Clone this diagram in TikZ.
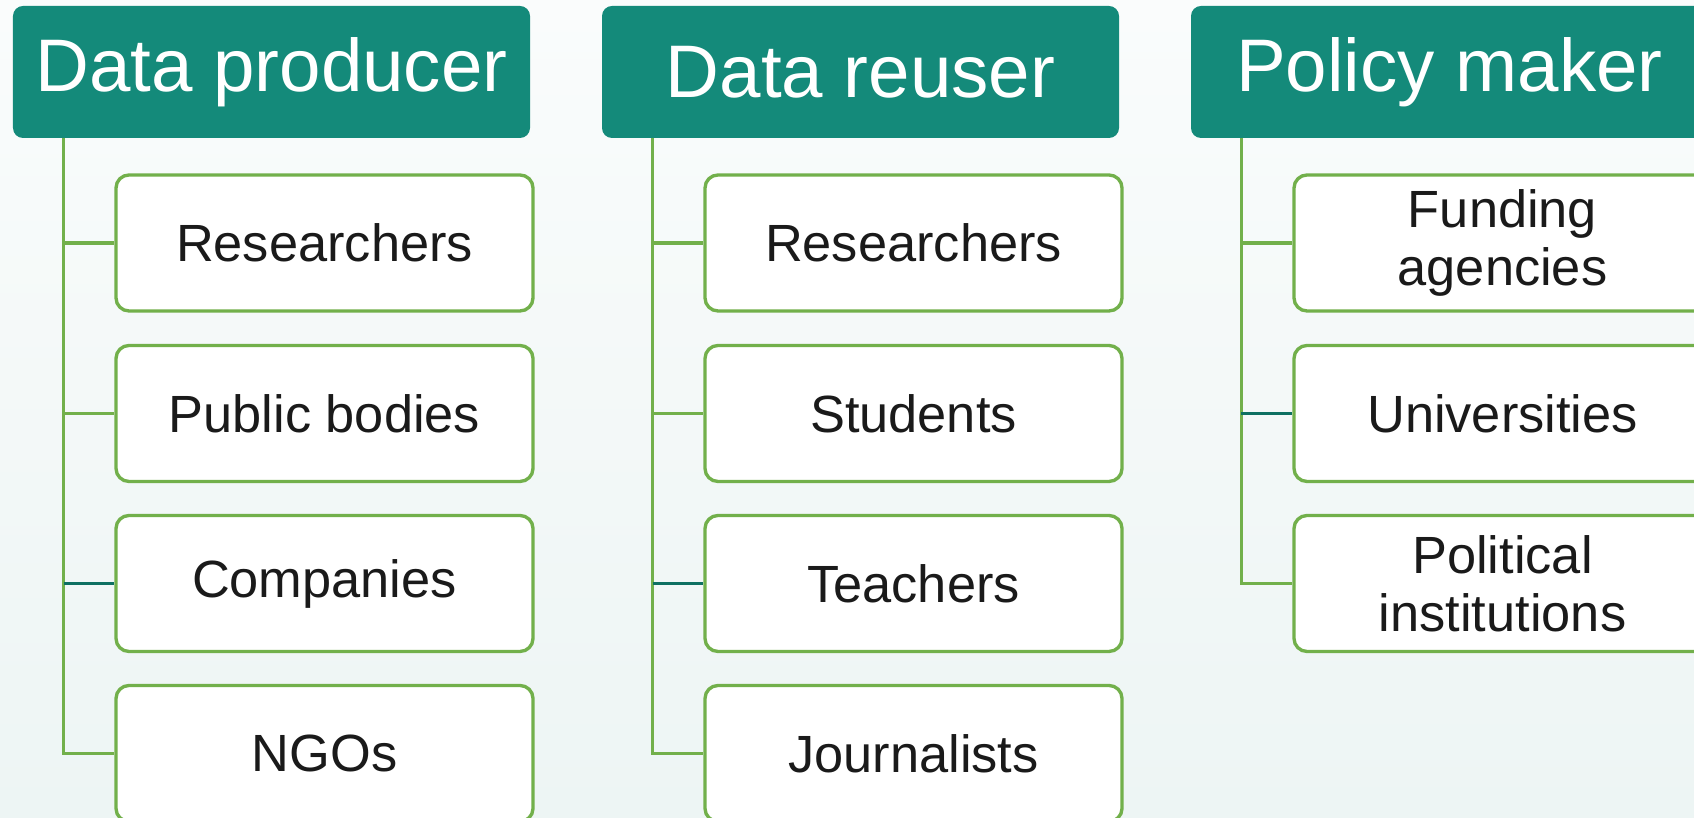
\documentclass[tikz,border=0pt]{standalone}
\usepackage{fontspec}
\setmainfont{Liberation Sans}
\usetikzlibrary{positioning}

\definecolor{headteal}{RGB}{20,138,122}
\definecolor{darkteal}{RGB}{14,112,98}
\definecolor{leafgreen}{RGB}{114,176,75}
\definecolor{bgtop}{RGB}{250,252,252}
\definecolor{bgbot}{RGB}{237,245,244}
\definecolor{inkblack}{RGB}{26,26,26}

\tikzset{
    header/.style={rectangle, rounded corners=0.1cm, fill=headteal, text=white,
        minimum width=5.17cm, minimum height=1.32cm, inner sep=0pt,
        font=\fontsize{21.2}{24}\selectfont},
    member/.style={rectangle, rounded corners=0.13cm, draw=leafgreen, line width=0.95pt,
        fill=white, text=inkblack, align=center, minimum width=4.17cm,
        minimum height=1.36cm, inner sep=0pt, font=\fontsize{14.9}{16.4}\selectfont},
    trunk/.style={draw=leafgreen, line width=1pt},
    hilite/.style={draw=darkteal, line width=1pt}
}

\begin{document}
\begin{tikzpicture}
    \useasboundingbox (0, 0) rectangle (16.94, -8.18);
    \fill [top color=bgtop, bottom color=bgbot] (0, 0) rectangle (16.94, -8.18);

    % column headers
    \node [header] (prod) at (2.715, -0.72) {Data producer};
    \node [header] (reus) at (8.605, -0.72) {Data reuser};
    \node [header] (poli) at (14.495, -0.72) {Policy maker};

    % data producer
    \node [member] (prod1) at (3.245, -2.43) {Researchers};
    \node [member] (prod2) at (3.245, -4.135) {Public bodies};
    \node [member] (prod3) at (3.245, -5.835) {Companies};
    \node [member] (prod4) at (3.245, -7.535) {NGOs};

    % data reuser
    \node [member] (reus1) at (9.135, -2.43) {Researchers};
    \node [member] (reus2) at (9.135, -4.135) {Students};
    \node [member] (reus3) at (9.135, -5.835) {Teachers};
    \node [member] (reus4) at (9.135, -7.535) {Journalists};

    % policy maker
    \node [member] (poli1) at (15.025, -2.43) {Funding \\ agencies};
    \node [member] (poli2) at (15.025, -4.135) {Universities};
    \node [member] (poli3) at (15.025, -5.835) {Political \\ institutions};

    \coordinate (prodt) at (0.637, -1.38);
    \coordinate (reust) at (6.526, -1.38);
    \coordinate (polit) at (12.414, -1.38);

    \draw [trunk] (prodt) |- (prod4.west);
    \draw [trunk] (prod1.west -| prodt) -- (prod1.west);
    \draw [trunk] (prod2.west -| prodt) -- (prod2.west);
    \draw [hilite] (prod3.west -| prodt) -- (prod3.west);

    \draw [trunk] (reust) |- (reus4.west);
    \draw [trunk] (reus1.west -| reust) -- (reus1.west);
    \draw [trunk] (reus2.west -| reust) -- (reus2.west);
    \draw [hilite] (reus3.west -| reust) -- (reus3.west);

    \draw [trunk] (polit) |- (poli3.west);
    \draw [trunk] (poli1.west -| polit) -- (poli1.west);
    \draw [hilite] (poli2.west -| polit) -- (poli2.west);

\end{tikzpicture}
\end{document}
